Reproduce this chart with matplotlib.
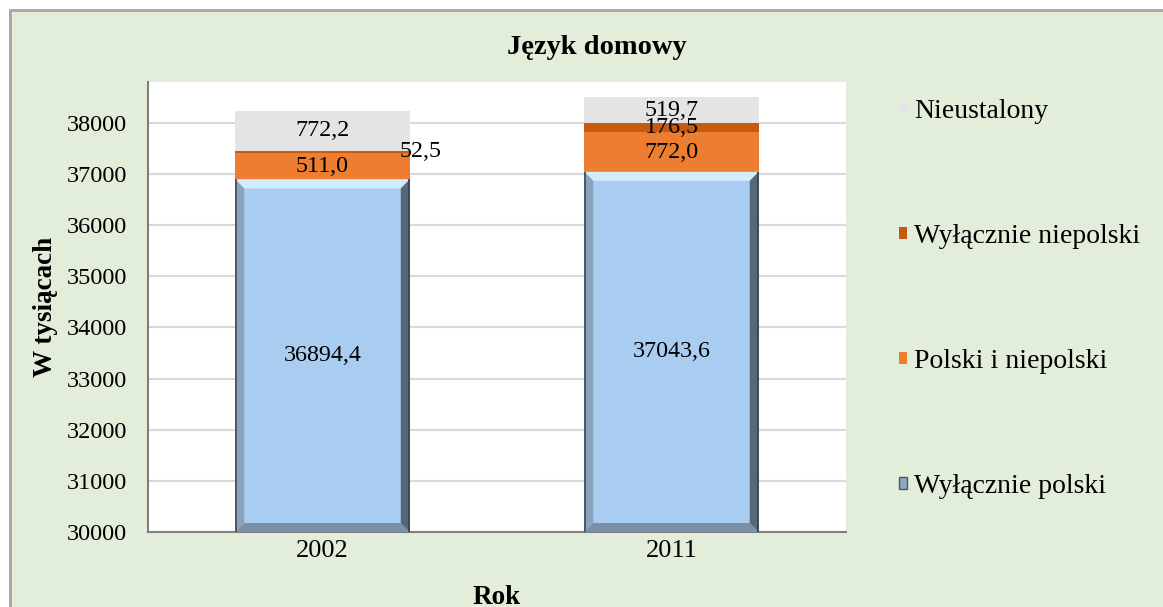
import matplotlib.pyplot as plt
import matplotlib.patches as mpatches
from matplotlib.transforms import IdentityTransform
import numpy as np

plt.rcParams['font.family'] = ['Liberation Serif', 'DejaVu Serif']

years = ['2002', '2011']
series_names = ['Wyłącznie polski', 'Polski i niepolski', 'Wyłącznie niepolski', 'Nieustalony']
only_polish = [36894.4, 37043.6]
polish_other = [511.0, 772.0]
only_other = [52.5, 176.5]
unknown = [772.2, 519.7]
labels = [['36894,4', '37043,6'], ['511,0', '772,0'], ['52,5', '176,5'], ['772,2', '519,7']]

colors = ['#A9CDF1', '#ED7D31', '#C55A11', '#E4E4E4']
bg = '#E2EED9'

fig = plt.figure(figsize=(11.63, 6.07), dpi=100)
fig.patch.set_facecolor('white')
# framed green background
fig.patches.append(mpatches.Rectangle((10 / 1163, -0.05), 1.2, 597 / 607 + 0.05, transform=fig.transFigure,
                                      facecolor=bg, edgecolor='#A6A6A6', linewidth=2, zorder=-10))

ax = fig.add_axes([148 / 1163, 1 - 532 / 607, 698 / 1163, 450 / 607])
ax.set_facecolor('white')
ax.set_ylim(30000, 38800)
ax.set_xlim(-0.5, 1.5)
ax.set_yticks(np.arange(30000, 38001, 1000))
ax.yaxis.grid(True, color='#D9D9D9', linewidth=1.5)
ax.set_axisbelow(True)
for s in ['top', 'right']:
    ax.spines[s].set_visible(False)
for s in ['left', 'bottom']:
    ax.spines[s].set_color('#808080')
    ax.spines[s].set_linewidth(1.5)
ax.tick_params(length=0, labelsize=17.5, pad=15)
ax.tick_params(axis='x', pad=6, labelsize=19)

x = np.arange(len(years))
width = 0.5
series = [only_polish, polish_other, only_other, unknown]
bottom = np.zeros(len(years))
bar_groups = []
for vals, col, name in zip(series, colors, series_names):
    bars = ax.bar(x, vals, width, bottom=bottom, color=col, label=name, zorder=2)
    bar_groups.append((bars, bottom.copy(), np.array(vals)))
    bottom = bottom + np.array(vals)

# data labels
ylo = ax.get_ylim()[0]
for k, (bars, bot, vals) in enumerate(bar_groups):
    for i, b in enumerate(bars):
        lo = max(bot[i], ylo)
        hi = bot[i] + vals[i]
        if k == 2 and i == 0:
            ax.text(b.get_x() + b.get_width() * 0.94, (lo + hi) / 2, labels[k][i],
                    ha='left', va='center', fontsize=17.3, zorder=5)
        else:
            ax.text(b.get_x() + b.get_width() / 2, (lo + hi) / 2, labels[k][i],
                    ha='center', va='center', fontsize=17.3, zorder=5)

# bevel on the blue bars (computed from the bar geometry in pixels)
d = 9
for i, b in enumerate(bar_groups[0][0]):
    x0, bot_ = ax.transData.transform((b.get_x(), ylo))
    x1, top = ax.transData.transform((b.get_x() + b.get_width(), b.get_y() + b.get_height()))
    polys = [
        ([(x0, top), (x1, top), (x1 - d, top - d), (x0 + d, top - d)], '#D3ECFC'),
        ([(x0, bot_), (x1, bot_), (x1 - d, bot_ + d), (x0 + d, bot_ + d)], '#7990A8'),
        ([(x0, bot_), (x0, top), (x0 + d, top - d), (x0 + d, bot_ + d)], '#8CA3BC'),
        ([(x1, bot_), (x1, top), (x1 - d, top - d), (x1 - d, bot_ + d)], '#56677A'),
    ]
    for pts, c in polys:
        ax.add_patch(mpatches.Polygon(pts, closed=True, facecolor=c, edgecolor='none',
                                      transform=IdentityTransform(), zorder=3, clip_on=False))
    ax.add_patch(mpatches.Rectangle((x0, bot_), 2, top - bot_, facecolor='#4A5868', edgecolor='none',
                                    transform=IdentityTransform(), zorder=3))
    ax.add_patch(mpatches.Rectangle((x1 - 2, bot_), 2, top - bot_, facecolor='#3E4B59', edgecolor='none',
                                    transform=IdentityTransform(), zorder=3))

ax.set_xticks(x)
ax.set_xticklabels(years)
ax.set_ylabel('W tysiącach', fontsize=19.5, fontweight='bold', labelpad=6)
ax.set_xlabel('Rok', fontsize=19.5, fontweight='bold', labelpad=16)

fig.text(597 / 1163, 1 - 47 / 607, 'Język domowy', ha='center', va='center',
         fontsize=20.5, fontweight='bold')

handles = [mpatches.Patch(facecolor=c) for c in colors]
handles[0] = mpatches.Patch(facecolor='#8FA7C0', edgecolor='#4A5868')
leg = fig.legend(handles[::-1], series_names[::-1], loc='upper left',
                 bbox_to_anchor=(874 / 1163, 1 - 74 / 607), frameon=False, fontsize=20,
                 labelspacing=3.6, handlelength=0.3, handleheight=0.3, handletextpad=0.25)

fig.savefig('out.png', dpi=100, facecolor=fig.get_facecolor())
